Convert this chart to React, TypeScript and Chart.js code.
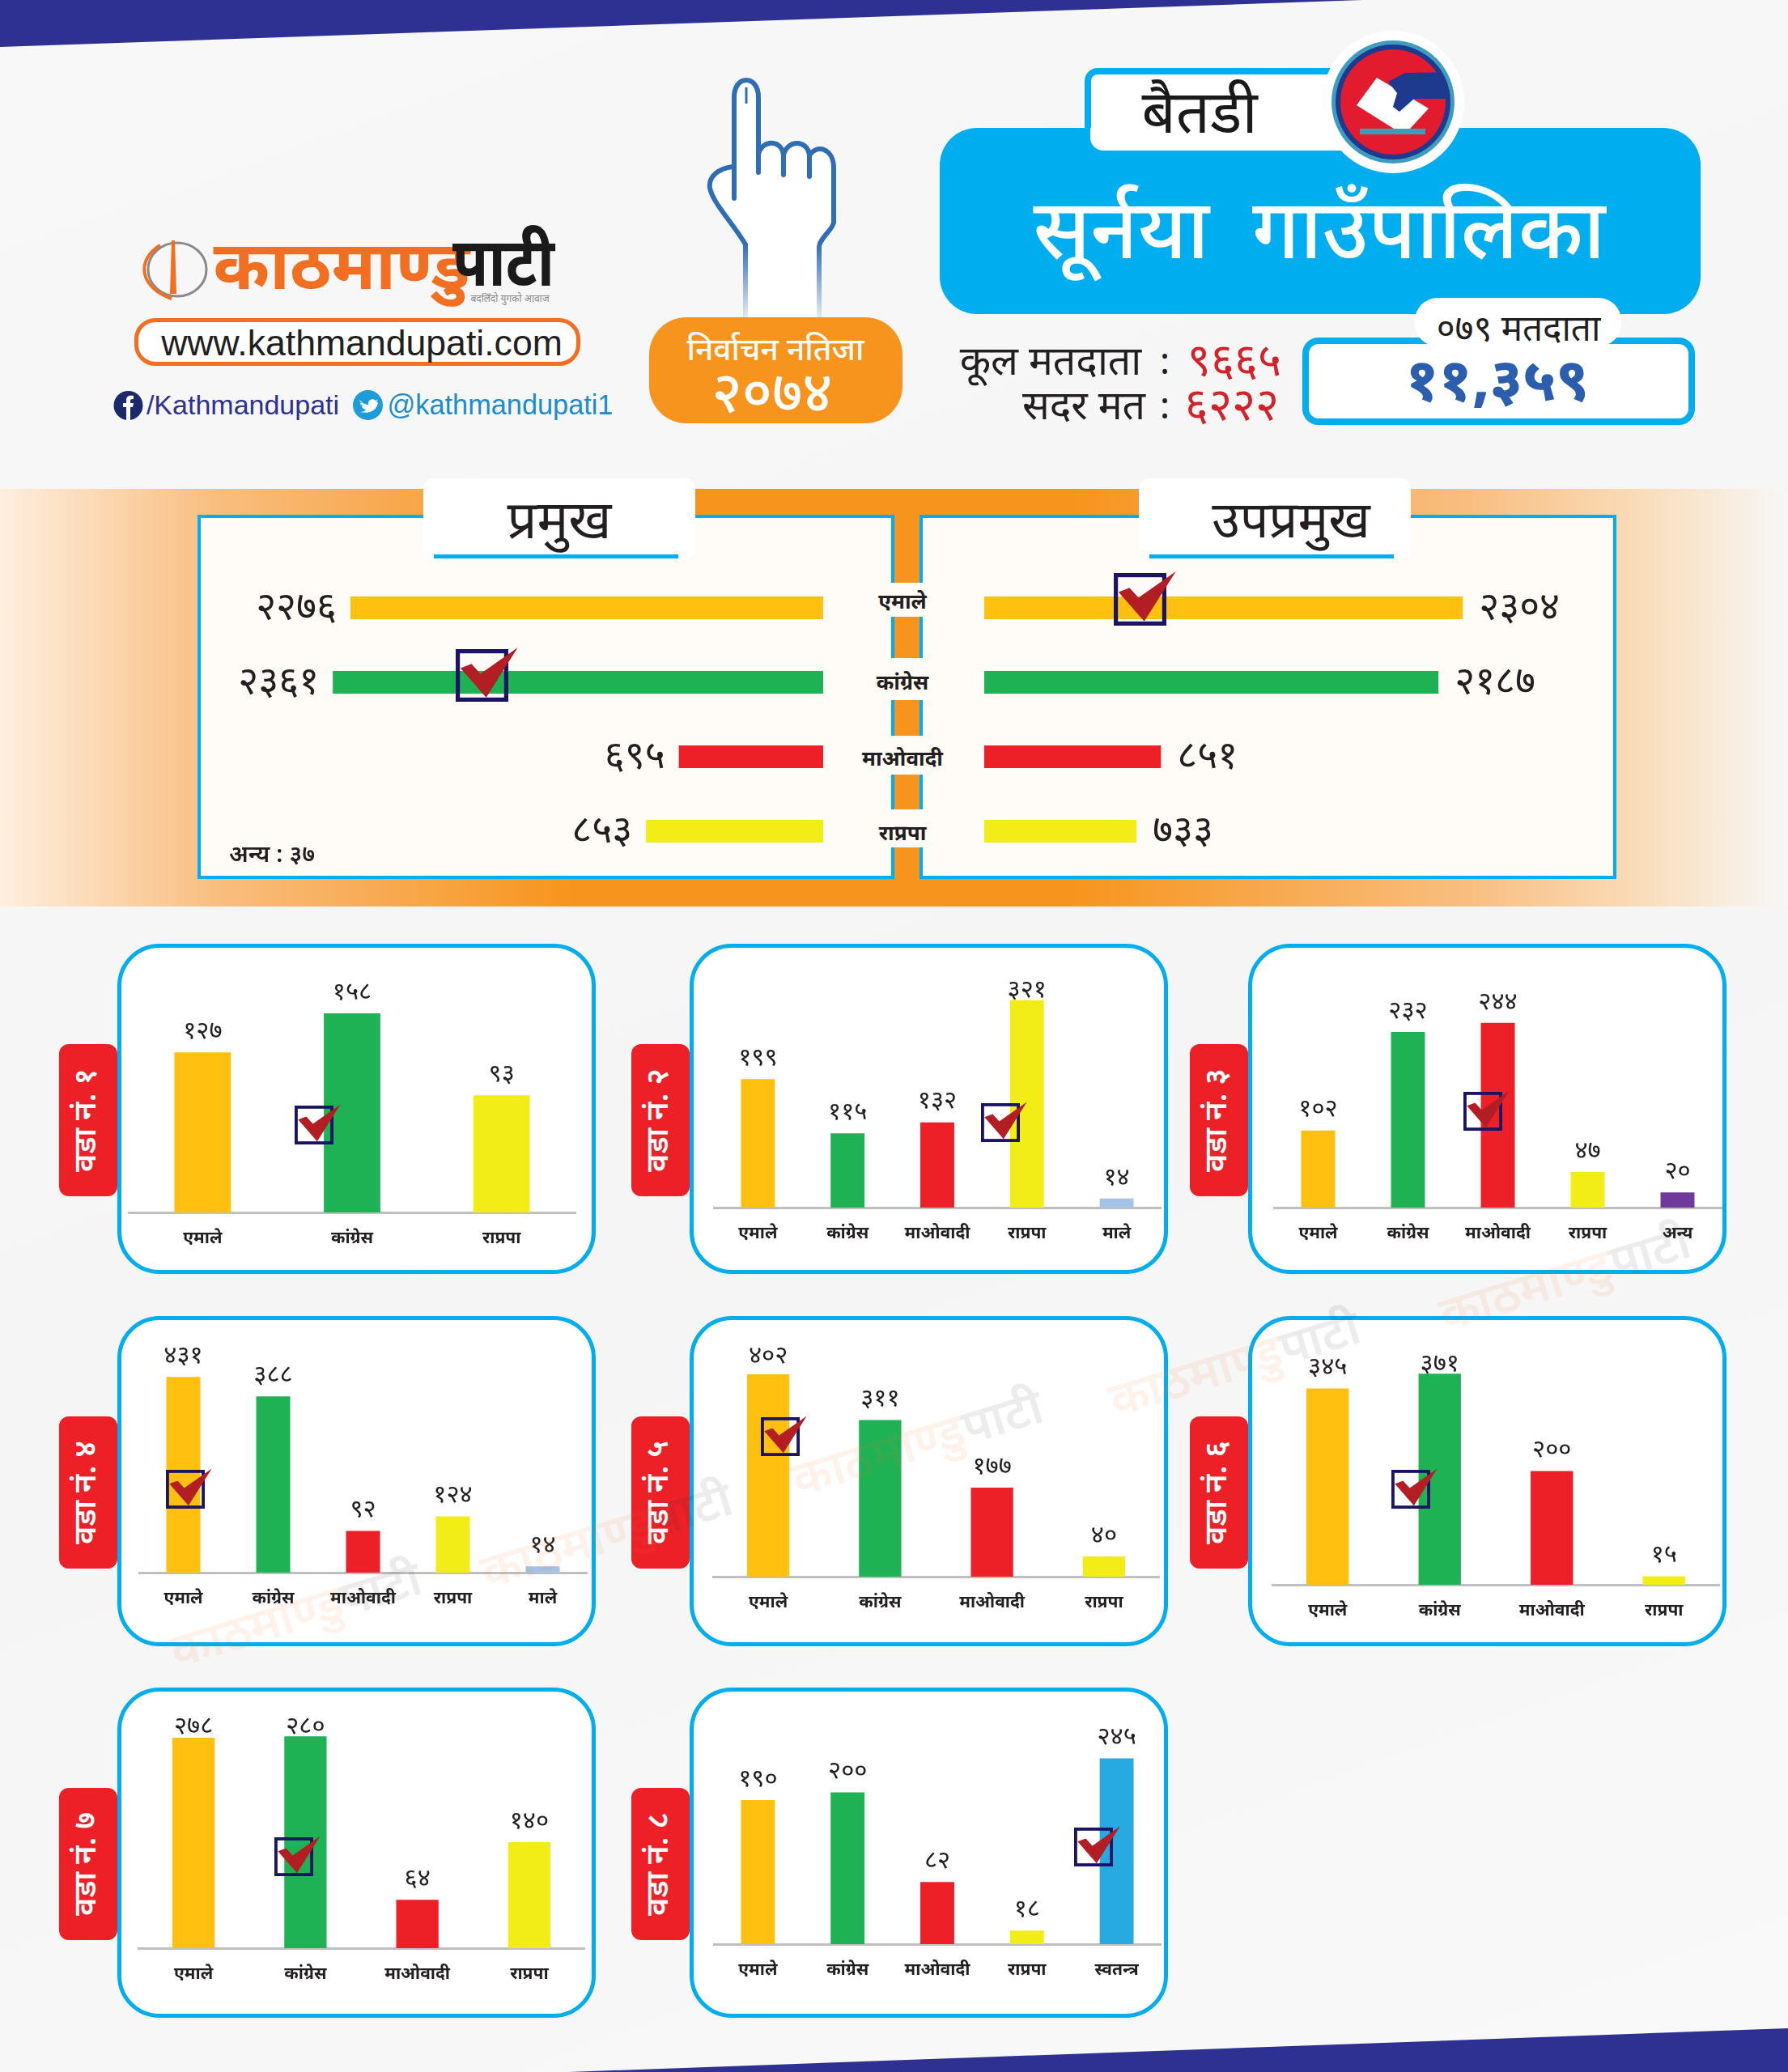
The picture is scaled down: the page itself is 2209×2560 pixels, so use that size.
import React, { useEffect, useRef } from "react";
import { Chart, registerables } from "chart.js";

Chart.register(...registerables);

const FONT = "'Noto Sans Devanagari','Noto Serif Devanagari','Lohit Devanagari','FreeSans','Noto Sans',sans-serif";
const LATIN = "'Liberation Sans',Arial,sans-serif";

const AMBER = "#FFC00F";
const GREEN = "#1FB254";
const RED = "#ED1F27";
const YELLOW = "#F2EC17";
const SKY = "#A3C4E8";
const PURPLE = "#6F3A9B";
const BLUE = "#27AAE1";
const CYAN = "#00AEEF";

const digits = "०१२३४५६७८९";
const toNp = (n: number) => String(n).replace(/\d/g, (d) => digits[Number(d)]);

// Mayor / deputy mayor
const partyNames = ["एमाले", "कांग्रेस", "माओवादी", "राप्रपा"];
const partyColors = [AMBER, GREEN, RED, YELLOW];
const mayorVotes = [2276, 2361, 695, 853];
const deputyVotes = [2304, 2187, 851, 733];

// Wards
const ward1Cats = ["एमाले", "कांग्रेस", "राप्रपा"];
const ward1Vals = [127, 158, 93];
const ward1Cols = [AMBER, GREEN, YELLOW];
const ward2Cats = ["एमाले", "कांग्रेस", "माओवादी", "राप्रपा", "माले"];
const ward2Vals = [199, 115, 132, 321, 14];
const ward2Cols = [AMBER, GREEN, RED, YELLOW, SKY];
const ward3Cats = ["एमाले", "कांग्रेस", "माओवादी", "राप्रपा", "अन्य"];
const ward3Vals = [102, 232, 244, 47, 20];
const ward3Cols = [AMBER, GREEN, RED, YELLOW, PURPLE];
const ward4Cats = ["एमाले", "कांग्रेस", "माओवादी", "राप्रपा", "माले"];
const ward4Vals = [431, 388, 92, 124, 14];
const ward4Cols = [AMBER, GREEN, RED, YELLOW, SKY];
const ward5Cats = ["एमाले", "कांग्रेस", "माओवादी", "राप्रपा"];
const ward5Vals = [402, 311, 177, 40];
const ward5Cols = [AMBER, GREEN, RED, YELLOW];
const ward6Cats = ["एमाले", "कांग्रेस", "माओवादी", "राप्रपा"];
const ward6Vals = [345, 371, 200, 15];
const ward6Cols = [AMBER, GREEN, RED, YELLOW];
const ward7Cats = ["एमाले", "कांग्रेस", "माओवादी", "राप्रपा"];
const ward7Vals = [278, 280, 64, 140];
const ward7Cols = [AMBER, GREEN, RED, YELLOW];
const ward8Cats = ["एमाले", "कांग्रेस", "माओवादी", "राप्रपा", "स्वतन्त्र"];
const ward8Vals = [190, 200, 82, 18, 245];
const ward8Cols = [AMBER, GREEN, RED, YELLOW, BLUE];

const CARD_W = 591;
const CARD_H = 408;
const columns = [145, 852, 1542];
const rows = [1166, 1626, 2085];

const wards = [
  { n: 1, col: 0, row: 0, cats: ward1Cats, vals: ward1Vals, cols: ward1Cols, left: 158, right: 712, base: 1498, ceil: 1227, px: 1.557, chk: [364, 1366] },
  { n: 2, col: 1, row: 0, cats: ward2Cats, vals: ward2Vals, cols: ward2Cols, left: 881, right: 1435, base: 1492, ceil: 1225, px: 0.798, chk: [1212, 1363] },
  { n: 3, col: 2, row: 0, cats: ward3Cats, vals: ward3Vals, cols: ward3Cols, left: 1573, right: 2128, base: 1492, ceil: 1239, px: 0.935, chk: [1808, 1349] },
  { n: 4, col: 0, row: 1, cats: ward4Cats, vals: ward4Vals, cols: ward4Cols, left: 171, right: 726, base: 1943, ceil: 1677, px: 0.561, chk: [205, 1816] },
  { n: 5, col: 1, row: 1, cats: ward5Cats, vals: ward5Vals, cols: ward5Cols, left: 880, right: 1433, base: 1948, ceil: 1677, px: 0.622, chk: [940, 1751] },
  { n: 6, col: 2, row: 1, cats: ward6Cats, vals: ward6Vals, cols: ward6Cols, left: 1571, right: 2125, base: 1958, ceil: 1687, px: 0.703, chk: [1719, 1816] },
  { n: 7, col: 0, row: 2, cats: ward7Cats, vals: ward7Vals, cols: ward7Cols, left: 170, right: 723, base: 2407, ceil: 2135, px: 0.935, chk: [339, 2270] },
  { n: 8, col: 1, row: 2, cats: ward8Cats, vals: ward8Vals, cols: ward8Cols, left: 881, right: 1435, base: 2402, ceil: 2147, px: 0.937, chk: [1327, 2258] },
];

const watermarks = [
  [367, 2000], [751, 1902], [1135, 1788], [1527, 1690], [1935, 1584],
];

function abs(x: number, y: number, w: number, h: number, extra: React.CSSProperties = {}): React.CSSProperties {
  return { position: "absolute", left: x, top: y, width: w, height: h, boxSizing: "border-box", ...extra };
}

function Txt({ cx, cy, size, color = "#231F20", weight = 400, children, rotate = 0, font = FONT, sx = 1 }: any) {
  return (
    <div
      style={{
        position: "absolute",
        left: cx,
        top: cy,
        transform: `translate(-50%,-50%) rotate(${rotate}deg) scaleX(${sx})`,
        whiteSpace: "pre",
        fontFamily: font,
        fontSize: size,
        color,
        fontWeight: weight,
        lineHeight: 1,
      }}
    >
      {children}
    </div>
  );
}

function Check({ x, y, s }: { x: number; y: number; s: number }) {
  return (
    <svg style={{ position: "absolute", left: x, top: y, overflow: "visible" }} width={s} height={s} viewBox="0 0 100 100">
      <rect x="4" y="4" width="92" height="92" fill="none" stroke="#1B1464" strokeWidth="8" />
      <path d="M9 36 L30 28 L47 47 L118 -3 L58 92 Z" fill="#B31E25" />
    </svg>
  );
}

function MiniChart({ w }: { w: (typeof wards)[number] }) {
  const ref = useRef<HTMLCanvasElement>(null);
  const H = w.base - w.ceil + 20;
  const TICK = 62;
  useEffect(() => {
    const chart = new Chart(ref.current!, {
      type: "bar",
      data: {
        labels: w.cats,
        datasets: [{ data: w.vals, backgroundColor: w.cols, categoryPercentage: 1, barPercentage: 0.378 }],
      },
      options: {
        animation: false,
        responsive: false,
        devicePixelRatio: 1,
        layout: { padding: 0 },
        plugins: { legend: { display: false }, tooltip: { enabled: false } },
        scales: {
          y: { display: false, min: 0, max: H / w.px },
          x: {
            grid: { display: false, drawTicks: false },
            border: { color: "#BFBFBF", width: 3 },
            ticks: { color: "#231F20", padding: 21, autoSkip: false, maxRotation: 0, font: { family: FONT, size: 21, weight: "bold" } },
            afterFit: (s: any) => { s.height = TICK; },
          },
        },
      },
      plugins: [
        {
          id: "valueLabels",
          afterDatasetsDraw(c: any) {
            const ctx = c.ctx;
            ctx.save();
            ctx.font = `31px ${FONT}`;
            ctx.fillStyle = "#231F20";
            ctx.textAlign = "center";
            ctx.textBaseline = "middle";
            c.getDatasetMeta(0).data.forEach((b: any, i: number) => {
              ctx.fillText(toNp(w.vals[i]), b.x, Math.max(b.y - 23, 21));
            });
            ctx.restore();
          },
        },
      ],
    } as any);
    return () => chart.destroy();
  }, []);
  return (
    <canvas
      ref={ref}
      width={w.right - w.left}
      height={H + TICK}
      style={{ position: "absolute", left: w.left, top: w.base - H }}
    />
  );
}

function HBar({ votes, reversed, left, width }: { votes: number[]; reversed: boolean; left: number; width: number }) {
  const ref = useRef<HTMLCanvasElement>(null);
  useEffect(() => {
    const chart = new Chart(ref.current!, {
      type: "bar",
      data: {
        labels: partyNames,
        datasets: [{ data: votes, backgroundColor: partyColors, categoryPercentage: 1, barPercentage: 0.304 }],
      },
      options: {
        indexAxis: "y",
        animation: false,
        responsive: false,
        devicePixelRatio: 1,
        layout: { padding: 0 },
        plugins: { legend: { display: false }, tooltip: { enabled: false } },
        scales: {
          x: { display: false, min: 0, max: width / 0.2566, reverse: reversed },
          y: { display: false },
        },
      },
      plugins: [
        {
          id: "voteLabels",
          afterDatasetsDraw(c: any) {
            const ctx = c.ctx;
            ctx.save();
            ctx.font = `48px ${FONT}`;
            ctx.fillStyle = "#231F20";
            ctx.textAlign = reversed ? "right" : "left";
            ctx.textBaseline = "middle";
            c.getDatasetMeta(0).data.forEach((b: any, i: number) => {
              ctx.fillText(toNp(votes[i]), b.x + (reversed ? -17 : 20), b.y + 5);
            });
            ctx.restore();
          },
        },
      ],
    } as any);
    return () => chart.destroy();
  }, []);
  return <canvas ref={ref} width={width} height={368} style={{ position: "absolute", left, top: 705 }} />;
}

function Hand() {
  return (
    <svg style={{ position: "absolute", left: 0, top: 0 }} width={2209} height={420}>
      <defs>
        <linearGradient id="fade" x1="0" y1="300" x2="0" y2="395" gradientUnits="userSpaceOnUse">
          <stop offset="0" stopColor="#2F6DB5" />
          <stop offset="1" stopColor="#2F6DB5" stopOpacity="0.08" />
        </linearGradient>
      </defs>
      <path d="M921 395 L921 302 C905 275 880 250 877 232 C875 218 888 208 905 206 L907 120 C907 92 937 92 937 120 L937 190 C942 172 966 172 968 192 C972 172 998 172 1000 192 C1008 178 1030 182 1030 208 L1030 275 C1028 285 1012 295 1012 305 L1012 395 Z" fill="#fff" stroke="none" />
      <path d="M921 395 L921 302 C905 275 880 250 877 232 C875 218 888 208 905 206 M907 245 L907 120 C907 92 937 92 937 120 L937 213 M937 190 C942 172 966 172 968 192 L968 216 M968 192 C972 172 998 172 1000 192 L1000 218 M1000 192 C1008 178 1030 182 1030 208 L1030 275 C1028 285 1012 295 1012 305 L1012 395" fill="none" stroke="url(#fade)" strokeWidth="6" strokeLinecap="round" />
      <path d="M922 108 L922 128" stroke="#2F6DB5" strokeWidth="3" />
    </svg>
  );
}

function Globe({ x, y, scale = 1, opacity = 1 }: any) {
  return (
    <svg style={{ position: "absolute", left: x, top: y, opacity }} width={90 * scale} height={76 * scale} viewBox="0 0 90 76">
      <ellipse cx="47" cy="36" rx="36" ry="33" fill="none" stroke="#8A8A8A" strokeWidth="3" />
      <path d="M26 6 C-4 24 0 58 40 72" fill="none" stroke="#F26F21" strokeWidth="4" />
      <path d="M40 0 L44 0 L46 66 L38 66 Z" fill="#F26F21" />
    </svg>
  );
}

function Seal() {
  return (
    <svg style={{ position: "absolute", left: 1632, top: 37 }} width={178} height={178} viewBox="0 0 178 178">
      <defs>
        <clipPath id="sealClip"><circle cx="89" cy="89" r="66" /></clipPath>
      </defs>
      <circle cx="89" cy="89" r="88" fill="#fff" />
      <circle cx="89" cy="89" r="76" fill="#3E9CC0" />
      <circle cx="89" cy="89" r="71" fill="#1E3A8F" />
      <circle cx="89" cy="89" r="65" fill="#E31B2F" />
      <g clipPath="url(#sealClip)">
        <path d="M44 93 L69 59 L133 97 L110 122 L90 122 Z" fill="#fff" />
        <path d="M83 64 L104 53 L160 52 L160 85 L115 85 L97 101 L89 95 L94 78 Z" fill="#1E3A8F" />
        <rect x="48" y="122" width="81" height="7" fill="#3E9CC0" />
      </g>
    </svg>
  );
}

export default function App() {
  return (
    <div
      style={{
        position: "absolute",
        left: 0,
        top: 0,
        width: 2209,
        height: 2560,
        overflow: "hidden",
        background: "linear-gradient(160deg,#F8F8F8,#F5F5F5 55%,#F9F9F9)",
      }}
    >
      {/* corner bands */}
      <svg style={{ position: "absolute", left: 0, top: 0 }} width={2209} height={2560}>
        <polygon points="0,0 1683,0 0,58" fill="#2E3192" />
        <polygon points="703,2560 2209,2506 2209,2560" fill="#2E3192" />
      </svg>

      {/* logo */}
      <Globe x={172} y={297} />
      <Txt cx={422} cy={337} size={84} color="#F26F21" weight={700}>काठमाण्डु</Txt>
      <Txt cx={622} cy={333} size={84} color="#1A1A1A" weight={700} sx={0.86}>पाटी</Txt>
      <Txt cx={630} cy={370} size={12} color="#8A8A8A">बदलिँदो युगको आवाज</Txt>
      <div style={abs(166, 393, 551, 59, { border: "5px solid #F26F21", borderRadius: 26, background: "#fff" })} />
      <Txt cx={447} cy={424} size={44.6} font={LATIN} color="#231F20">www.kathmandupati.com</Txt>
      <svg style={{ position: "absolute", left: 140, top: 483 }} width={37} height={36} viewBox="0 0 37 36">
        <circle cx="18.5" cy="18" r="18" fill="#1B2A6B" />
        <path d="M16 36 V20 H12 V15 H16 V11 C16 7 19 5 25 6 V10 C21 10 21 11 21 13 V15 H25 L24 20 H21 V36 Z" fill="#fff" />
      </svg>
      <Txt cx={300} cy={500} size={34} font={LATIN} color="#2E3192">/Kathmandupati</Txt>
      <svg style={{ position: "absolute", left: 436, top: 482 }} width={37} height={37} viewBox="0 0 37 37">
        <circle cx="18.5" cy="18.5" r="18.5" fill="#1C9CD8" />
        <path d="M8 12 C12 16 15 18 19 18 C18 12 25 9 28 13 L31 12 L29 15 L31 15 C30 24 22 30 9 27 C13 27 15 26 16 24 C12 23 11 21 11 20 L13 20 C10 19 9 17 9 16 L11 16 C9 15 8 13 8 12 Z" fill="#fff" />
      </svg>
      <Txt cx={618} cy={500} size={34.3} font={LATIN} color="#1C8CCB">@kathmandupati1</Txt>

      {/* hand and result badge */}
      <Hand />
      <div style={abs(802, 392, 313, 131, { background: "#F7941D", borderRadius: 46 })} />
      <Txt cx={958} cy={435} size={39} color="#fff" weight={500}>निर्वाचन नतिजा</Txt>
      <Txt cx={954} cy={492} size={70} color="#fff" weight={500}>{toNp(2074)}</Txt>

      {/* municipality header */}
      <div style={abs(1340, 84, 340, 104, { background: "#fff", borderTop: `8px solid ${CYAN}`, borderLeft: `8px solid ${CYAN}`, borderRadius: "16px 0 0 16px" })} />
      <div style={abs(1161, 158, 940, 230, { background: CYAN, borderRadius: 46 })} />
      <div style={abs(1347, 158, 320, 28, { background: "#fff", borderRadius: "0 0 0 16px" })} />
      <Txt cx={1482} cy={146} size={74} color="#1A1A1A">बैतडी</Txt>
      <Seal />
      <Txt cx={1630} cy={295} size={102} color="#fff" weight={500}>सूर्नया  गाउँपालिका</Txt>

      <div style={abs(1609, 417, 485, 108, { background: "#fff", border: `8px solid ${CYAN}`, borderRadius: 20 })} />
      <div style={abs(1748, 368, 255, 60, { background: "#fff", borderRadius: 28 })} />
      <Txt cx={1876} cy={411} size={44}>{`${toNp(79).padStart(3, "०")} मतदाता`}</Txt>
      <Txt cx={1850} cy={476} size={72} color="#2B5FAE" weight={800}>{`११,${toNp(359)}`}</Txt>
      <Txt cx={1298} cy={451} size={50}>कूल मतदाता</Txt>
      <Txt cx={1439} cy={451} size={46}>:</Txt>
      <Txt cx={1525} cy={451} size={56} color="#D2232A">{toNp(9665)}</Txt>
      <Txt cx={1339} cy={506} size={50}>सदर मत</Txt>
      <Txt cx={1439} cy={506} size={46}>:</Txt>
      <Txt cx={1522} cy={506} size={56} color="#D2232A">{toNp(6222)}</Txt>

      {/* orange band + result panels */}
      <div style={abs(0, 604, 2209, 516, { background: "linear-gradient(90deg,#FDEFDF 0%,#F8BE80 12%,#F7941D 32%,#F7941D 60%,#F8BE80 82%,#F9DDBB 92%,#F7F7F7 100%)" })} />
      <div style={abs(244, 636, 861, 450, { background: "#FFFBF7", border: `4px solid ${CYAN}` })} />
      <div style={abs(1136, 636, 861, 450, { background: "#FFFBF7", border: `4px solid ${CYAN}` })} />
      <div style={abs(523, 591, 336, 100, { background: "#fff", borderRadius: 12 })} />
      <div style={abs(536, 685, 302, 5, { background: CYAN })} />
      <Txt cx={691} cy={649} size={65}>प्रमुख</Txt>
      <div style={abs(1407, 591, 336, 100, { background: "#fff", borderRadius: 12 })} />
      <div style={abs(1420, 685, 302, 5, { background: CYAN })} />
      <Txt cx={1595} cy={649} size={63}>उपप्रमुख</Txt>

      <HBar votes={mayorVotes} reversed left={270} width={747} />
      <HBar votes={deputyVotes} reversed={false} left={1216} width={764} />
      {partyNames.map((p, i) => (
        <React.Fragment key={p}>
          <div style={abs(1053, [720, 813, 909, 1000][i], 124, [42, 52, 48, 47][i], { background: "#FFFBF7" })} />
          <Txt cx={1115} cy={[746, 846, 940, 1032][i]} size={26} weight={700}>{p}</Txt>
        </React.Fragment>
      ))}
      <Txt cx={336} cy={1058} size={29} weight={600}>{`अन्य : ${toNp(37)}`}</Txt>
      <Check x={563} y={802} s={65} />
      <Check x={1376} y={708} s={65} />

      {/* ward cards */}
      {wards.map((w) => (
        <React.Fragment key={w.n}>
          <div style={abs(columns[w.col], rows[w.row], CARD_W, CARD_H, { background: "#fff", border: `5px solid ${CYAN}`, borderRadius: 52 })} />
          <div style={abs(columns[w.col] - 72, rows[w.row] + 124, 72, 188, { background: RED, borderRadius: 12 })} />
          <Txt cx={columns[w.col] - 36} cy={rows[w.row] + 218} size={38} color="#fff" weight={600} rotate={-90}>{`वडा नं. ${toNp(w.n)}`}</Txt>
          <MiniChart w={w} />
          <Check x={w.chk[0]} y={w.chk[1]} s={48} />
        </React.Fragment>
      ))}

      {/* watermarks */}
      {watermarks.map(([x, y]) => (
        <div key={`${x}-${y}`} style={{ position: "absolute", left: x, top: y, transform: "translate(-50%,-50%) rotate(-17deg)", whiteSpace: "nowrap", fontFamily: FONT, fontSize: 60, fontWeight: 600, opacity: 0.09, pointerEvents: "none" }}>
          <span style={{ color: "#F26F21" }}>काठमाण्डु</span>
          <span style={{ color: "#333" }}>पाटी</span>
        </div>
      ))}
    </div>
  );
}
